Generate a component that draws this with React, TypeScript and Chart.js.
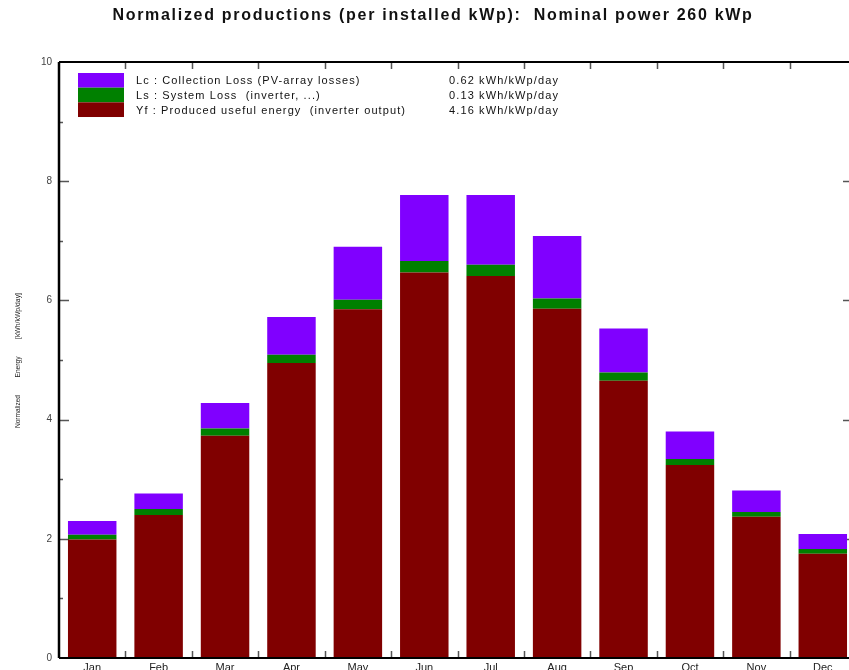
import { useEffect, useRef } from "react";
import { Chart, registerables } from "chart.js";

Chart.register(...registerables);

// Monthly normalized productions, kWh/kWp/day
const months = ["Jan", "Feb", "Mar", "Apr", "May", "Jun", "Jul", "Aug", "Sep", "Oct", "Nov", "Dec"];
const usefulEnergy = [1.99, 2.40, 3.73, 4.95, 5.85, 6.47, 6.41, 5.86, 4.65, 3.24, 2.37, 1.75];
const systemLoss = [0.08, 0.10, 0.12, 0.14, 0.16, 0.19, 0.19, 0.17, 0.14, 0.10, 0.08, 0.08];
const collectionLoss = [0.23, 0.26, 0.43, 0.63, 0.89, 1.11, 1.17, 1.05, 0.74, 0.46, 0.36, 0.25];

const legendLabels = [
  "Lc : Collection Loss (PV-array losses)",
  "Ls : System Loss  (inverter, ...)",
  "Yf : Produced useful energy  (inverter output)",
];
const legendValues = ["0.62 kWh/kWp/day", "0.13 kWh/kWp/day", "4.16 kWh/kWp/day"];
const legendColors = ["#8000ff", "#008000", "#800000"];

const chartTitle = "Normalized productions (per installed kWp):  Nominal power 260 kWp";
const yTitleWords = ["Normalized", "Energy", "[kWh/kWp/day]"];
const yMin = 0;
const yMax = 10;
const yStep = 2;

const FONT = "'Liberation Sans', Arial, sans-serif";

const decorPlugin = {
  id: "decor",
  beforeDatasetsDraw(chart: any) {
    const { ctx, chartArea: a, scales } = chart;
    const y = scales.y;
    const x = scales.x;
    ctx.save();
    ctx.strokeStyle = "#555";
    ctx.lineWidth = 1.5;
    // inward ticks on left and right axes (major every 2, minor every 1)
    for (let v = yMin + 1; v < yMax; v++) {
      const py = Math.round(y.getPixelForValue(v)) + 0.5;
      const major = v % yStep === 0;
      ctx.beginPath();
      ctx.moveTo(a.left, py);
      ctx.lineTo(a.left + (major ? 10 : 4), py);
      ctx.moveTo(a.right, py);
      ctx.lineTo(a.right - (major ? 13 : 6), py);
      ctx.stroke();
    }
    // ticks at month boundaries on top and bottom axes
    for (let i = 1; i < months.length; i++) {
      const px = Math.round((x.getPixelForValue(i - 1) + x.getPixelForValue(i)) / 2) + 0.5;
      ctx.beginPath();
      ctx.moveTo(px, a.top);
      ctx.lineTo(px, a.top + 7);
      ctx.moveTo(px, a.bottom);
      ctx.lineTo(px, a.bottom - 7);
      ctx.stroke();
    }
    ctx.restore();
  },
  afterDatasetsDraw(chart: any) {
    const { ctx, chartArea: a } = chart;
    ctx.save();
    // frame
    ctx.strokeStyle = "#000";
    ctx.lineWidth = 2.5;
    ctx.beginPath();
    ctx.moveTo(a.left, a.top);
    ctx.lineTo(a.left, a.bottom);
    ctx.stroke();
    ctx.lineWidth = 2;
    ctx.beginPath();
    ctx.moveTo(a.left, a.top);
    ctx.lineTo(a.right, a.top);
    ctx.moveTo(a.left, a.bottom);
    ctx.lineTo(a.right, a.bottom);
    ctx.moveTo(a.right, a.top);
    ctx.lineTo(a.right, a.bottom);
    ctx.stroke();

    // title
    ctx.fillStyle = "#111";
    ctx.font = `bold 16px ${FONT}`;
    (ctx as any).letterSpacing = "1.7px";
    ctx.textAlign = "center";
    ctx.textBaseline = "middle";
    ctx.fillText(chartTitle, chart.width / 2, 16);

    // legend block
    const boxX = 78;
    const boxW = 46;
    const rowH = 14.67;
    const top0 = 73;
    ctx.font = `11px ${FONT}`;
    (ctx as any).letterSpacing = "1.1px";
    ctx.textBaseline = "middle";
    for (let i = 0; i < legendLabels.length; i++) {
      const ry = top0 + i * rowH;
      ctx.fillStyle = legendColors[i];
      ctx.fillRect(boxX, ry, boxW, rowH);
      ctx.fillStyle = "#111";
      ctx.textAlign = "left";
      ctx.fillText(legendLabels[i], 136, ry + rowH / 2 + 1);
      ctx.textAlign = "right";
      ctx.fillText(legendValues[i], 559, ry + rowH / 2 + 1);
    }
    (ctx as any).letterSpacing = "0px";

    // vertical axis title, narrow small words
    const mid = (a.top + a.bottom) / 2;
    const offsets = [51.5, 7, -44];
    const lengths = [33, 21, 46];
    ctx.fillStyle = "#222";
    ctx.font = `8px ${FONT}`;
    ctx.textAlign = "center";
    ctx.textBaseline = "middle";
    for (let i = 0; i < yTitleWords.length; i++) {
      const w = ctx.measureText(yTitleWords[i]).width;
      ctx.save();
      ctx.translate(18, mid + offsets[i]);
      ctx.rotate(-Math.PI / 2);
      ctx.scale(lengths[i] / w, 1);
      ctx.fillText(yTitleWords[i], 0, 0);
      ctx.restore();
    }
    ctx.restore();
  },
};

export default function App() {
  const ref = useRef<HTMLCanvasElement | null>(null);

  useEffect(() => {
    if (!ref.current) return;
    const chart = new Chart(ref.current, {
      type: "bar",
      data: {
        labels: months,
        datasets: [
          { label: "Yf", data: usefulEnergy, backgroundColor: legendColors[2] },
          { label: "Ls", data: systemLoss, backgroundColor: legendColors[1] },
          { label: "Lc", data: collectionLoss, backgroundColor: legendColors[0] },
        ],
      },
      options: {
        responsive: false,
        animation: false,
        devicePixelRatio: 1,
        layout: { padding: { top: 62, right: 10, left: 0, bottom: 0 } },
        datasets: { bar: { barPercentage: 0.73, categoryPercentage: 1, borderWidth: 0 } },
        plugins: {
          legend: { display: false },
          title: { display: false },
          tooltip: { enabled: false },
        },
        scales: {
          x: {
            stacked: true,
            grid: { display: false, drawTicks: false },
            border: { display: false },
            ticks: {
              color: "#222",
              font: { family: FONT, size: 11 },
              padding: 3,
              maxRotation: 0,
              autoSkip: false,
            },
            afterFit: (s: any) => {
              s.height = 32;
            },
          },
          y: {
            stacked: true,
            min: yMin,
            max: yMax,
            grid: { display: false, drawTicks: false },
            border: { display: false },
            ticks: {
              stepSize: yStep,
              color: "#444",
              font: { family: FONT, size: 10 },
              padding: 7,
            },
            afterFit: (s: any) => {
              s.width = 59;
            },
          },
        },
      },
      plugins: [decorPlugin],
    });
    return () => chart.destroy();
  }, []);

  return (
    <div
      style={{
        position: "absolute",
        left: 0,
        top: 0,
        width: 849,
        height: 670,
        overflow: "hidden",
        background: "#fff",
      }}
    >
      <canvas ref={ref} width={866} height={690} style={{ display: "block" }} />
    </div>
  );
}
